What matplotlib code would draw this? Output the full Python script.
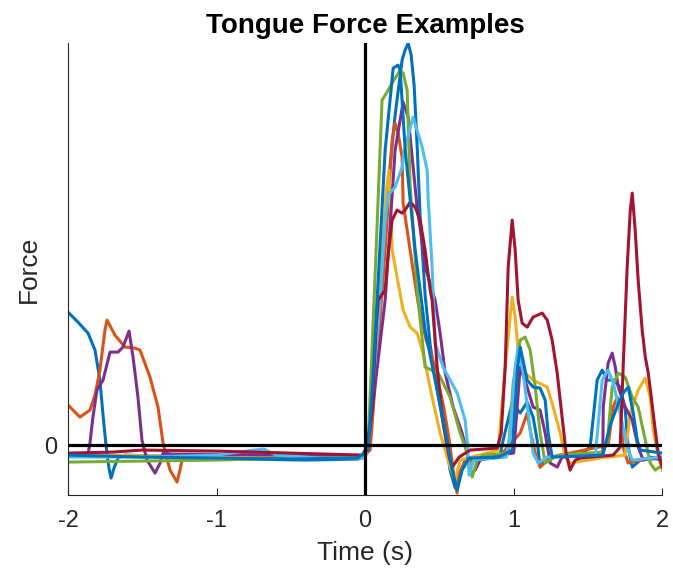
import numpy as np
import matplotlib
matplotlib.use("Agg")
import matplotlib.pyplot as plt

plt.rcParams['font.family'] = ['Liberation Sans', 'DejaVu Sans']
plt.rcParams['axes.unicode_minus'] = False

# matlab default colour order
colors = ['#0072BD', '#D95319', '#EDB120', '#7E2F8E', '#77AC30', '#4DBEEE', '#A2142F', '#0072BD']

# traces: time (s), force (a.u.)
t1 = [-2, -1.933, -1.865, -1.818, -1.785, -1.764, -1.744, -1.724, -1.71, -1.69, -1.663, -1.616, -1.2, -0.8, -0.4, -0.05, 0.0,
      0.007, 0.047, 0.101, 0.155, 0.202, 0.249, 0.269, 0.29, 0.31, 0.33, 0.35, 0.37, 0.404, 0.438, 0.492, 0.539, 0.572, 0.606, 0.633, 0.673, 0.774, 0.909,
      0.929, 0.99, 1.044, 1.091, 1.131, 1.158, 1.178, 1.226, 1.448, 1.515, 1.562, 1.596, 1.63, 1.67, 1.717, 1.751, 1.771, 1.798, 1.852, 2.0]
f1 = [1.33, 1.23, 1.12, 0.95, 0.65, 0.30, 0.0, -0.23, -0.33, -0.23, -0.13, -0.10, -0.12, -0.14, -0.15, -0.14, -0.12,
      -0.08, 0.3, 1.5, 2.6, 3.3, 3.85, 3.95, 4.02, 3.9, 3.6, 3.0, 2.3, 1.5, 1.0, 0.5, 0.1, -0.25, -0.43, -0.3, -0.15, -0.12, -0.10,
      0.05, 0.42, 0.32, 0.43, 0.28, 0.05, -0.22, -0.12, -0.10, -0.02, 0.65, 0.75, 0.65, 0.65, 0.58, 0.35, -0.02, -0.22, -0.15, -0.13]

t2 = [-2, -1.953, -1.919, -1.852, -1.818, -1.785, -1.751, -1.737, -1.684, -1.616, -1.549, -1.515, -1.448, -1.394, -1.36, -1.313, -1.266, -1.246, -1.232, -1.178, -0.5, -0.02,
      0.034, 0.135, 0.182, 0.202, 0.222, 0.249, 0.256, 0.29, 0.323, 0.357, 0.411, 0.471, 0.529, 0.566, 0.599, 0.619, 0.633, 0.673, 0.9,
      1.044, 1.091, 1.111, 1.145, 1.178, 1.25, 1.636, 1.67, 1.697, 1.717, 1.737, 1.771, 1.85, 2.0]
f2 = [0.40, 0.33, 0.28, 0.35, 0.50, 0.75, 1.15, 1.25, 1.10, 0.98, 0.97, 0.95, 0.68, 0.38, 0.02, -0.25, -0.37, -0.25, -0.15, -0.10, -0.11, -0.12,
      -0.05, 1.95, 3.05, 3.22, 3.12, 2.88, 2.42, 2.08, 1.75, 1.42, 1.05, 0.78, 0.38, 0.05, -0.32, -0.48, -0.28, -0.17, -0.12,
      0.12, 0.32, 0.15, -0.08, -0.22, -0.12, 0.0, 0.38, 0.48, 0.35, -0.02, -0.18, -0.15, -0.12]

t3 = [-2, -1.0, -0.02, 0.01, 0.05, 0.10, 0.14, 0.16, 0.182, 0.215, 0.256, 0.303, 0.35, 0.384, 0.418, 0.451, 0.505, 0.572, 0.606, 0.64,
      0.896, 0.943, 0.99, 1.01, 1.03, 1.077, 1.131, 1.226, 1.266, 1.313, 1.347, 1.38, 1.582, 1.751, 1.785, 1.838, 1.886, 1.919, 1.939, 1.973, 2.0]
f3 = [-0.10, -0.11, -0.11, -0.08, 0.5, 1.6, 2.5, 2.75, 1.95, 1.68, 1.35, 1.18, 1.12, 0.95, 0.72, 0.48, 0.12, -0.22, -0.35, -0.15,
      -0.05, 0.78, 1.48, 1.28, 0.95, 0.72, 0.65, 0.58, 0.38, 0.12, -0.12, -0.18, -0.13, -0.10, 0.32, 0.55, 0.67, 0.48, 0.15, -0.12, -0.25]

t4 = [-2, -1.865, -1.852, -1.832, -1.805, -1.764, -1.717, -1.663, -1.63, -1.589, -1.562, -1.529, -1.502, -1.468, -1.414, -1.38, -1.36, -1.3, -0.5, -0.02,
      0.02, 0.135, 0.202, 0.256, 0.29, 0.35, 0.411, 0.471, 0.505, 0.539, 0.593, 0.653, 0.687, 0.707, 0.741, 0.774, 0.9,
      1.0, 1.044, 1.091, 1.131, 1.178, 1.212, 1.246, 1.293, 1.326, 1.6, 1.603, 1.636, 1.663, 1.684, 1.704, 1.751, 1.798, 1.838, 1.872, 1.919, 2.0]
f4 = [-0.09, -0.09, 0.02, 0.28, 0.55, 0.65, 0.93, 0.93, 0.98, 1.14, 0.88, 0.48, 0.05, -0.15, -0.28, -0.18, -0.08, -0.09, -0.10, -0.12,
      0.0, 1.45, 2.95, 3.43, 3.28, 2.38, 1.75, 1.45, 1.12, 0.72, 0.38, 0.12, -0.08, -0.28, -0.25, -0.15, -0.10,
      -0.08, 0.78, 0.58, 0.38, 0.35, 0.12, -0.18, -0.22, -0.12, -0.10, 0.38, 0.82, 0.92, 0.78, 0.58, 0.38, 0.25, -0.02, -0.15, -0.12, -0.15]

t5 = [-2, -1.5, -1.0, -0.5, -0.02, 0.02, 0.07, 0.114, 0.148, 0.182, 0.236, 0.256, 0.283, 0.303, 0.357, 0.404, 0.492, 0.572, 0.64, 0.687, 0.721, 0.754, 0.8,
      0.963, 0.997, 1.044, 1.077, 1.111, 1.145, 1.178, 1.212, 1.3, 1.6, 1.63, 1.663, 1.704, 1.751, 1.798, 1.838, 1.886, 1.919, 1.953, 2.0]
f5 = [-0.17, -0.16, -0.15, -0.13, -0.13, 0.0, 1.8, 3.45, 3.53, 3.62, 3.75, 3.72, 3.55, 2.6, 1.45, 0.78, 0.72, 0.48, 0.12, -0.08, -0.32, -0.15, -0.10,
      -0.08, 0.62, 1.05, 1.08, 0.95, 0.58, 0.12, -0.18, -0.10, -0.07, 0.02, 0.58, 0.72, 0.68, 0.48, 0.38, 0.05, -0.18, -0.25, -0.20]

t6 = [-2, -1.5, -1.0, -0.75, -0.68, -0.6, -0.3, -0.02, 0.02, 0.101, 0.135, 0.155, 0.202, 0.249, 0.269, 0.323, 0.384, 0.418, 0.424, 0.451, 0.471, 0.525, 0.62, 0.673, 0.69, 0.70, 0.73,
      0.95, 0.976, 1.01, 1.03, 1.064, 1.098, 1.131, 1.165, 1.226, 1.55, 1.596, 1.636, 1.67, 1.717, 1.764, 1.798, 2.0]
f6 = [-0.12, -0.12, -0.10, -0.05, -0.04, -0.10, -0.13, -0.13, 0.0, 1.45, 2.25, 2.5, 2.58, 2.78, 2.98, 3.28, 2.98, 2.75, 2.48, 1.78, 1.02, 0.78, 0.52, 0.25, 0.0, -0.3, -0.15,
      -0.12, 0.10, 0.78, 0.98, 0.72, 0.32, -0.08, -0.18, -0.12, -0.10, 0.65, 0.75, 0.62, 0.32, -0.02, -0.15, -0.12]

t7 = [-2, -1.7, -1.5, -1.0, -0.5, -0.02, 0.013, 0.047, 0.075, 0.088, 0.135, 0.155, 0.182, 0.215, 0.249, 0.269, 0.303, 0.337, 0.37, 0.404, 0.438, 0.451, 0.485, 0.52, 0.566, 0.586, 0.633, 0.707, 0.889,
      0.916, 0.943, 0.963, 0.99, 1.01, 1.03, 1.057, 1.091, 1.131, 1.192, 1.226, 1.259, 1.293, 1.326, 1.353, 1.38, 1.414, 1.448, 1.67, 1.717,
      1.737, 1.764, 1.785, 1.798, 1.818, 1.838, 1.865, 1.886, 1.906, 1.926, 1.953, 1.973, 2.0]
f7 = [-0.08, -0.07, -0.05, -0.06, -0.08, -0.10, -0.02, 0.35, 1.2, 1.45, 1.55, 1.9, 2.25, 2.35, 2.32, 2.35, 2.43, 2.38, 2.25, 1.95, 1.55, 1.45, 0.78, 0.28, -0.12, -0.22, -0.12, -0.05, -0.03,
      0.12, 0.78, 1.78, 2.25, 1.95, 1.45, 1.22, 1.18, 1.28, 1.32, 1.25, 1.05, 0.72, 0.28, -0.08, -0.25, -0.15, -0.13, -0.10, -0.02,
      0.78, 1.78, 2.35, 2.52, 2.15, 1.65, 1.15, 0.88, 0.72, 0.48, 0.15, -0.08, -0.22]

t8 = [-2, -1.5, -1.0, -0.5, -0.05, 0.02, 0.05, 0.135, 0.189, 0.222, 0.236, 0.27, 0.337, 0.404, 0.471, 0.539, 0.586, 0.62, 0.653, 0.7, 0.9,
      0.99, 1.027, 1.044, 1.091, 1.131, 1.178, 1.212, 1.232, 1.259, 1.6, 1.65, 1.7, 1.737, 1.771, 1.805, 1.832, 1.852, 2.0]
f8 = [-0.10, -0.12, -0.13, -0.14, -0.13, -0.05, 0.6, 2.95, 3.77, 3.8, 3.75, 2.95, 1.95, 1.15, 0.65, 0.15, -0.25, -0.45, -0.25, -0.13, -0.12,
      -0.05, 0.78, 0.98, 0.65, 0.58, 0.57, 0.45, 0.12, -0.12, -0.10, 0.20, 0.40, 0.52, 0.58, 0.32, 0.05, -0.05, -0.08]

times = [t1, t2, t3, t4, t5, t6, t7, t8]
forces = [f1, f2, f3, f4, f5, f6, f7, f8]

fig = plt.figure(figsize=(6.73, 5.75), dpi=100)
ax = fig.add_axes([0.101, 0.139, 0.883, 0.786])

for t, f, c in zip(times, forces, colors):
    ax.plot(t, f, color=c, lw=2.2)

ax.axhline(0, color='k', lw=2.3, zorder=5)
ax.axvline(0, color='k', lw=2.3, zorder=5)

ax.set_xlim(-2, 2)
ax.set_ylim(-0.5, 4.02)
ax.set_xticks([-2, -1, 0, 1, 2])
ax.set_yticks([0])
ax.tick_params(direction='in', length=5, labelsize=17, colors='#262626', pad=11)
ax.tick_params(axis='y', length=0, pad=8)
for s in ['top', 'right']:
    ax.spines[s].set_visible(False)
for s in ['left', 'bottom']:
    ax.spines[s].set_color('#262626')
    ax.spines[s].set_linewidth(0.8)

ax.set_xlabel('Time (s)', fontsize=19, color='#262626', labelpad=6)
ax.set_ylabel('Force', fontsize=19, color='#262626', labelpad=2)
ax.set_title('Tongue Force Examples', fontsize=20, fontweight='bold', pad=7)

fig.savefig('out.png', dpi=100)
